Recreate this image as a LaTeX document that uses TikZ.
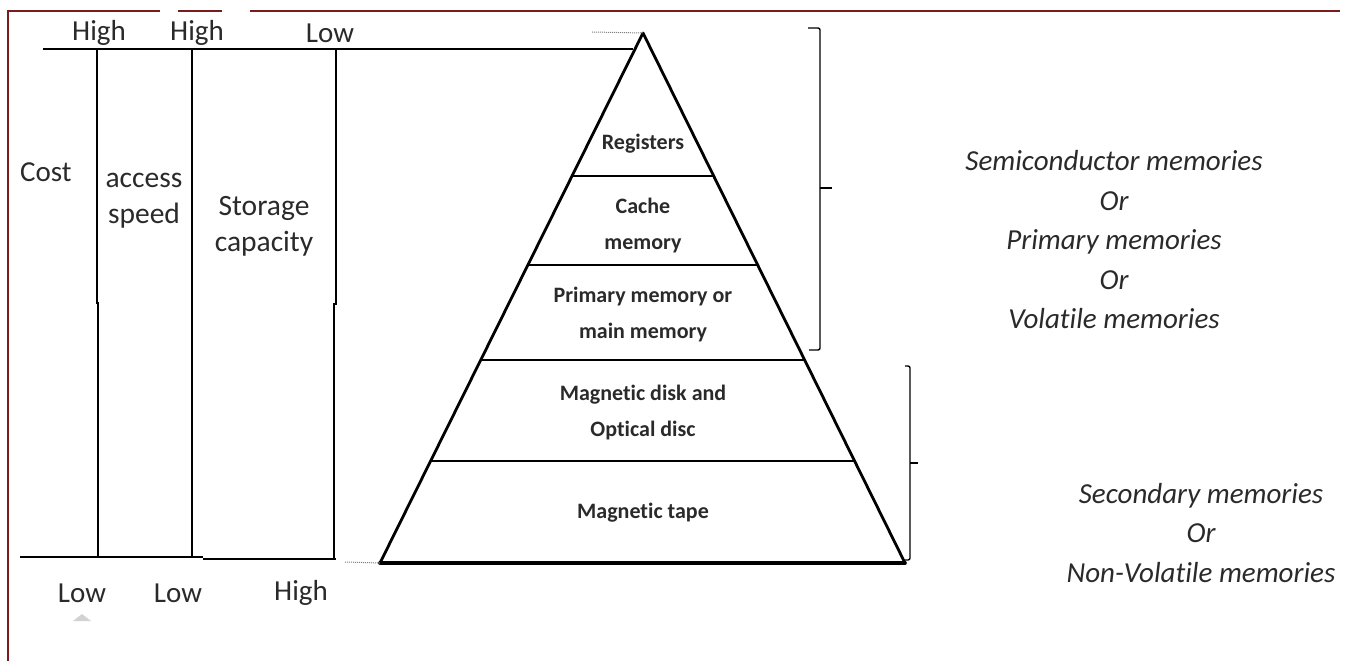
\documentclass[tikz,border=0pt]{standalone}
\usepackage{fontspec}
\setmainfont[Ligatures=NoCommon]{Carlito}
\usetikzlibrary{calc}
\definecolor{borderred}{HTML}{7B1C1C}
\definecolor{txt}{HTML}{2A2A2A}
\begin{document}
\begin{tikzpicture}[x=1pt,y=-1pt,
  ln/.style={line width=1.3pt, black},
  pyr/.style={line width=2.8pt, black, line cap=round, line join=round},
  band/.style={line width=2.4pt, black},
  lbl/.style={font=\fontsize{29}{32}\selectfont, text=txt, inner sep=0pt},
  stack/.style={font=\fontsize{29.5}{36}\selectfont, text=txt, inner sep=0pt, align=center},
  ptxt/.style={font=\bfseries\fontsize{22}{36}\selectfont, text=txt, align=center, inner sep=0pt},
  rtxt/.style={font=\itshape\fontsize{29}{39.5}\selectfont, text=txt, align=center, inner sep=0pt},
  bracket/.style={line width=1.4pt, black, rounded corners=2pt},
  dots/.style={densely dotted, line width=1pt, gray}]
\useasboundingbox (0,0) rectangle (1355,661);
% page border
\draw[line width=2pt, borderred] (8,661) -- (8,11) -- (160,11);
\draw[line width=2pt, borderred] (178,11) -- (222,11);
\draw[line width=2pt, borderred] (250,11) -- (1340,11);
% pyramid
\coordinate (apex) at (643,33);
\coordinate (bl) at (380,563);
\coordinate (br) at (905,563);
\draw[pyr] (bl) -- (apex) -- (br);
\draw[pyr, line width=3.6pt] (bl) -- (br);
\foreach \t/\n in {0.2698/a,0.4377/b,0.6170/c,0.8075/d}{
  \coordinate (l\n) at ($(apex)!\t!(bl)$);
  \coordinate (r\n) at ($(apex)!\t!(br)$);
  \draw[band] (l\n) -- (r\n);
}
% left scale lines
\coordinate (tl) at (43,49);
\coordinate (tr) at (633,49);
\draw[ln] (tl) -- (tr);
\draw[ln] (97,49) -- (97,303) -- (98,303) -- (98,557);
\draw[ln] (192,49) -- (192,558);
\draw[ln] (336,49) -- (336,304) -- (334,304) -- (334,559);
\draw[ln] (20,557) -- (203,557);
\draw[ln] (203,559) -- (336,559);
\coordinate (dt1) at (592,32);
\coordinate (db1) at (345,562);
\draw[dots] (dt1) -- (apex);
\draw[dots] (db1) -- (bl);
% brackets
\draw[bracket] (808,28) -- (820,28) -- (820,350) -- (809,350);
\draw[line width=1.4pt] (820,188) -- (832,188);
\draw[bracket] (905,366) -- (910,366) -- (910,560) -- (905,560);
\draw[line width=1.4pt] (910,463) -- (918,463);
% small grey mark
\fill[gray!35] (73,621) -- (82,614) -- (91,621) -- cycle;
% left labels
\node[lbl] (h1) at (99,33) {High};
\node[lbl] (h2) at (197,33) {High};
\node[lbl] (l3) at (330,33) {Low};
\node[lbl] (l1) at (82,593) {Low};
\node[lbl] (l2) at (178,593) {Low};
\node[lbl] (h3) at (301,593) {High};
\node[lbl, anchor=west] (cost) at (20,172) {Cost};
\node[stack] (speed) at (144,201) {access\\speed};
\node[stack] (cap) at (264,226) {Storage\\capacity};
% pyramid labels
\node[ptxt] (reg) at (643,144) {Registers};
\node[ptxt] (cache) at (643,226) {Cache\\memory};
\node[ptxt] (prim) at (643,315) {Primary memory or\\main memory};
\node[ptxt] (disk) at (643,413) {Magnetic disk and\\Optical disc};
\node[ptxt] (tape) at (643,513) {Magnetic tape};
% right labels
\node[rtxt] (semi) at (1114,240) {Semiconductor memories\\Or\\Primary memories\\Or\\Volatile memories};
\node[rtxt] (sec) at (1201,533) {Secondary memories\\Or\\Non-Volatile memories};
\end{tikzpicture}
\end{document}
